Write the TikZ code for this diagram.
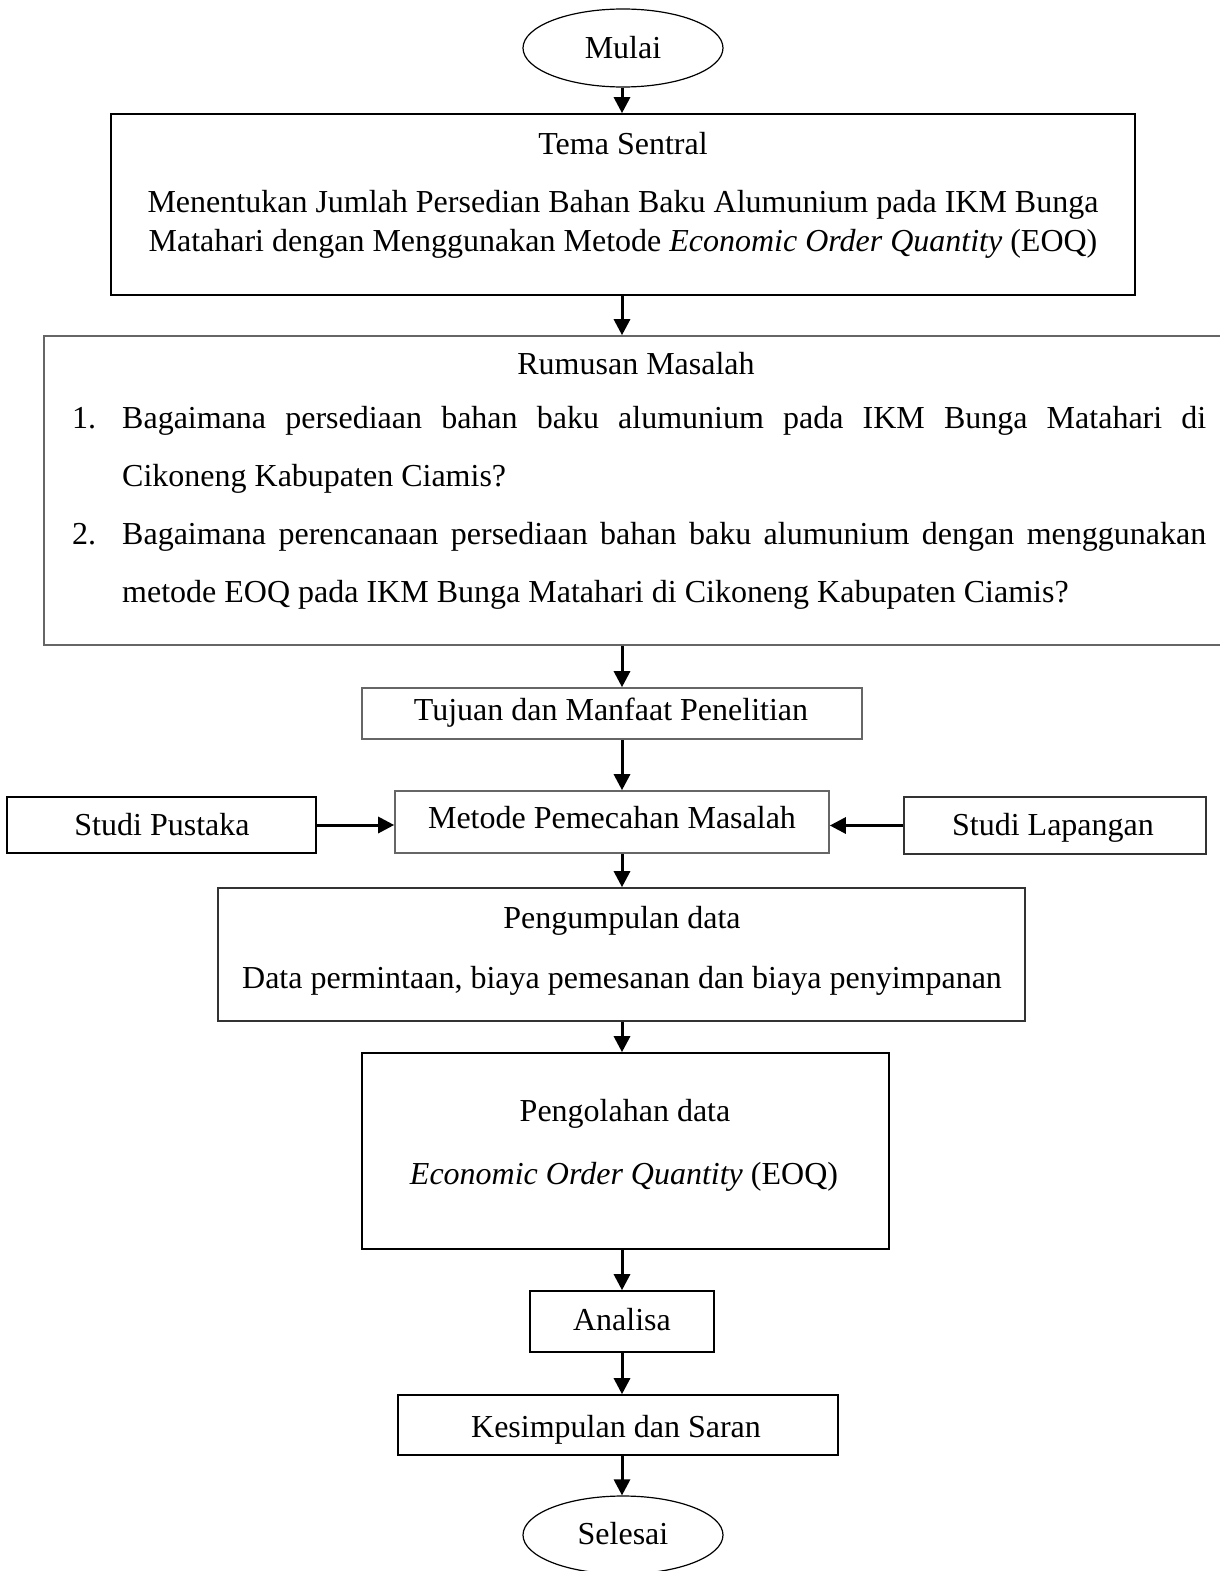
\documentclass[tikz,border=0pt]{standalone}
\usepackage{fontspec}
\setmainfont{Liberation Serif}
\usetikzlibrary{arrows.meta,shapes.geometric}
\begin{document}
\begin{tikzpicture}[x=1pt,y=-1pt,
  txt/.style={inner sep=0pt,font=\fontsize{32}{38}\selectfont},
  box/.style={draw,line width=1.6pt,inner sep=0pt},
  gbox/.style={box,draw=black!60},
  oval/.style={ellipse,draw,line width=1.2pt,inner sep=0pt,minimum width=200pt,minimum height=78pt},
  arr/.style={line width=3pt,-{Triangle[length=16pt,width=16pt]}}]
\useasboundingbox[fill=white] (0,0) rectangle (1219,1571);
% shapes
\node[oval] (mulai) at (623,48) {};
\node[box,minimum width=1024pt,minimum height=181pt] (tema) at (623,204.5) {};
\node[gbox,minimum width=1196pt,minimum height=309pt] (rumusan) at (642,490.5) {};
\node[gbox,minimum width=500pt,minimum height=51pt] (tujuan) at (612,713.5) {};
\node[gbox,minimum width=434pt,minimum height=62pt] (metode) at (612,822) {};
\node[box,minimum width=309pt,minimum height=56pt] (pustaka) at (161.5,825) {};
\node[box,draw=black!80,minimum width=302pt,minimum height=57pt] (lapangan) at (1055,825.5) {};
\node[box,draw=black!80,minimum width=807pt,minimum height=133pt] (kumpul) at (621.5,954.5) {};
\node[box,minimum width=527pt,minimum height=196pt] (olah) at (625.5,1151) {};
\node[box,minimum width=184pt,minimum height=61pt] (analisa) at (622,1321.5) {};
\node[box,minimum width=440pt,minimum height=60pt] (simpul) at (618,1425) {};
\node[oval] (selesai) at (623,1535) {};
% texts
\node[txt,anchor=base] (tmulai) at (623,59) {Mulai};
\node[txt,anchor=base] (ttema) at (623,154) {Tema Sentral};
\node[txt,anchor=base] (ttema1) at (623,212) {Menentukan Jumlah Persedian Bahan Baku Alumunium pada IKM Bunga};
\node[txt,anchor=base] (ttema2) at (623,251) {Matahari dengan Menggunakan Metode \textit{Economic Order Quantity} (EOQ)};
\node[txt,anchor=base] (trum) at (636,374) {Rumusan Masalah};
\node[txt,anchor=base west] (n1) at (72,428) {1.};
\node[txt,anchor=base west] (r1a) at (122,428) {\makebox[1084pt][s]{Bagaimana persediaan bahan baku alumunium pada IKM Bunga Matahari di}};
\node[txt,anchor=base west] (r1b) at (122,486) {Cikoneng Kabupaten Ciamis?};
\node[txt,anchor=base west] (n2) at (72,544) {2.};
\node[txt,anchor=base west] (r2a) at (122,544) {\makebox[1084pt][s]{Bagaimana perencanaan persediaan bahan baku alumunium dengan menggunakan}};
\node[txt,anchor=base west] (r2b) at (122,602) {metode EOQ pada IKM Bunga Matahari di Cikoneng Kabupaten Ciamis?};
\node[txt,anchor=base] (ttujuan) at (611,720) {Tujuan dan Manfaat Penelitian};
\node[txt,anchor=base] (tmetode) at (612,828) {Metode Pemecahan Masalah};
\node[txt,anchor=base] (tpustaka) at (162,835) {Studi Pustaka};
\node[txt,anchor=base] (tlapangan) at (1053,835) {Studi Lapangan};
\node[txt,anchor=base] (tkumpul) at (622,928) {Pengumpulan data};
\node[txt,anchor=base] (tkumpul2) at (622,988) {Data permintaan, biaya pemesanan dan biaya penyimpanan};
\node[txt,anchor=base] (tolah) at (625,1121) {Pengolahan data};
\node[txt,anchor=base] (tolah2) at (624,1184) {\textit{Economic Order Quantity} (EOQ)};
\node[txt,anchor=base] (tanalisa) at (622,1330) {Analisa};
\node[txt,anchor=base] (tsimpul) at (616,1437) {Kesimpulan dan Saran};
\node[txt,anchor=base] (tselesai) at (623,1544) {Selesai};
% connectors
\draw[arr] (mulai.south -| tanalisa) -- (tema.north -| tanalisa);
\draw[arr] (tema.south -| tanalisa) -- (rumusan.north -| tanalisa);
\draw[arr] (rumusan.south -| tanalisa) -- (tujuan.north -| tanalisa);
\draw[arr] (tujuan.south -| tanalisa) -- (metode.north -| tanalisa);
\draw[arr] (metode.south -| tanalisa) -- (kumpul.north -| tanalisa);
\draw[arr] (kumpul.south -| tanalisa) -- (olah.north -| tanalisa);
\draw[arr] (olah.south -| tanalisa) -- (analisa.north);
\draw[arr] (analisa.south) -- (simpul.north -| tanalisa);
\draw[arr] (simpul.south -| tanalisa) -- (selesai.north -| tanalisa);
\draw[arr] (pustaka.east) -- (pustaka.east -| metode.west);
\draw[arr] (lapangan.west) -- (lapangan.west -| metode.east);
\end{tikzpicture}
\end{document}
